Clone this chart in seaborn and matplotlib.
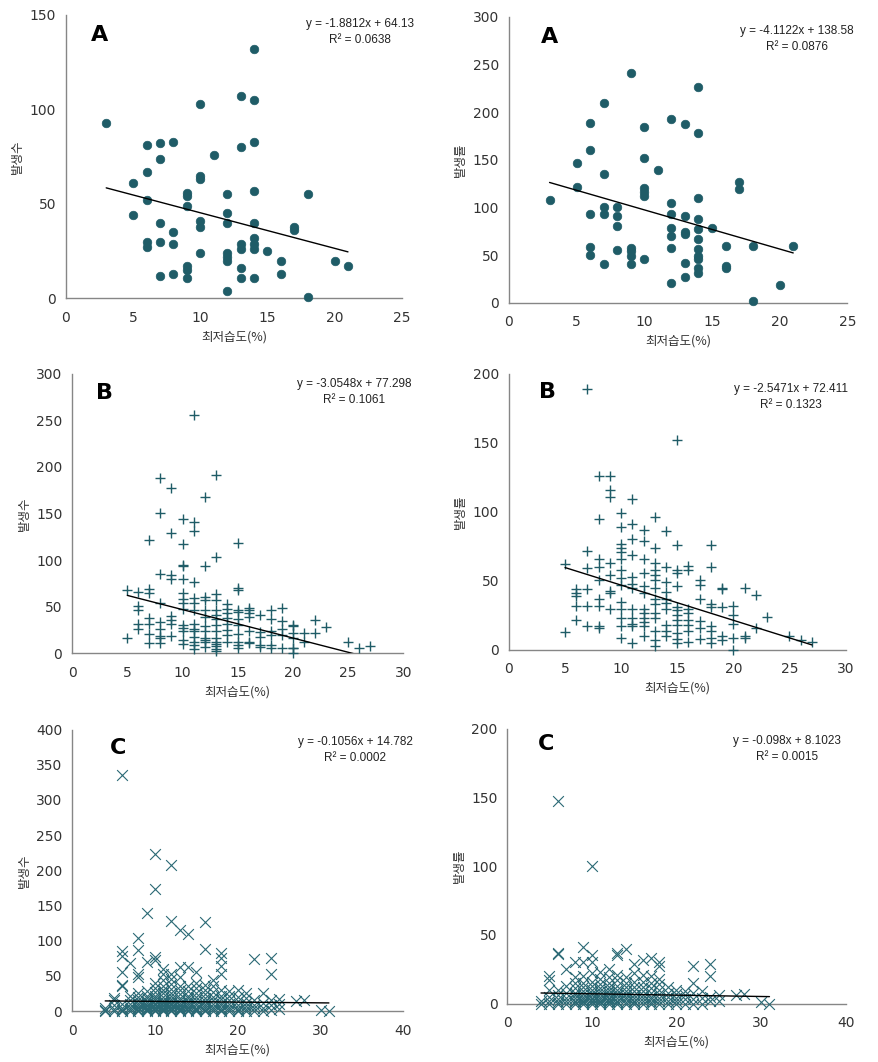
import numpy as np
import pandas as pd
import matplotlib
matplotlib.use('Agg')
import matplotlib.pyplot as plt
import seaborn as sns

sns.set_style('white')
plt.rcParams['font.family'] = ['DejaVu Sans', 'Noto Sans CJK KR']

# ---- A: 발생수 / 발생률 (circles)
a_cnt_x = [3, 5, 5, 6, 6, 6, 6, 6, 7, 7, 7, 7, 7, 8, 8, 8, 8,
           9, 9, 9, 9, 9, 9, 10, 10, 10, 10, 10, 10, 11,
           12, 12, 12, 12, 12, 12, 12, 13, 13, 13, 13, 13, 13,
           14, 14, 14, 14, 14, 14, 14, 14, 14, 15, 16, 16, 17, 17, 18, 18, 20, 21]
a_cnt_y = [93, 61, 44, 81, 67, 52, 30, 27, 82, 74, 40, 30, 12, 83, 35, 29, 13,
           56, 54, 49, 17, 15, 11, 103, 65, 63, 41, 38, 24, 76,
           55, 45, 40, 24, 22, 20, 4, 107, 80, 29, 26, 16, 11,
           132, 105, 83, 57, 40, 32, 29, 26, 11, 25, 20, 13, 38, 36, 55, 1, 20, 17]

a_rate_x = [3, 5, 5, 6, 6, 6, 6, 6, 7, 7, 7, 7, 7, 8, 8, 8, 8,
            9, 9, 9, 9, 9, 10, 10, 10, 10, 10, 10, 11,
            12, 12, 12, 12, 12, 12, 12, 13, 13, 13, 13, 13, 13,
            14, 14, 14, 14, 14, 14, 14, 14, 14, 14, 14,
            15, 16, 16, 16, 17, 17, 18, 18, 20, 21]
a_rate_y = [108, 147, 121, 189, 160, 93, 58, 50, 210, 135, 100, 93, 41, 100, 91, 81, 55,
            241, 57, 54, 49, 41, 185, 152, 120, 116, 112, 46, 139,
            193, 105, 93, 78, 70, 57, 21, 188, 91, 74, 72, 42, 27,
            227, 178, 110, 88, 77, 67, 56, 49, 46, 36, 31,
            78, 59, 38, 36, 127, 119, 60, 2, 19, 60]

# ---- B: plus markers, grouped by humidity value
b_cnt_cols = [5, 6, 7, 8, 9, 10, 11, 12, 13, 14, 15, 16, 17, 18, 19, 20, 21, 22, 23, 25, 26, 27]
b_cnt_vals = [
    [68, 16],
    [66, 51, 46, 31, 26],
    [121, 69, 65, 38, 31, 21, 11],
    [188, 150, 85, 54, 33, 26, 18, 16, 11],
    [177, 129, 84, 80, 40, 36, 31, 18],
    [144, 117, 95, 94, 80, 65, 58, 54, 47, 30, 27, 24, 14, 10],
    [256, 141, 131, 76, 59, 54, 46, 31, 26, 24, 17, 12, 9, 4],
    [168, 94, 60, 57, 46, 39, 29, 24, 16, 14, 12, 7],
    [191, 103, 64, 57, 46, 41, 37, 30, 24, 16, 12, 10, 8, 4, 2],
    [53, 47, 43, 38, 31, 25, 19, 12],
    [118, 70, 68, 46, 44, 37, 30, 21, 12, 9, 5],
    [48, 46, 43, 39, 24, 12, 11],
    [41, 23, 17, 9, 7],
    [46, 37, 24, 19, 9, 5],
    [49, 34, 26, 19, 5],
    [30, 29, 22, 16, 6, 5, 0],
    [22, 12],
    [36, 22],
    [28],
    [12],
    [6],
    [8],
]
b_rate_cols = [5, 6, 7, 8, 9, 10, 11, 12, 13, 14, 15, 16, 17, 18, 19, 20, 21, 22, 23, 25, 26, 27]
b_rate_vals = [
    [62, 13],
    [44, 41, 39, 32, 22],
    [189, 72, 59, 44, 32, 17],
    [126, 95, 66, 60, 51, 37, 32, 17, 16],
    [126, 116, 111, 63, 54, 43, 41, 30],
    [99, 89, 77, 74, 71, 66, 58, 52, 47, 35, 30, 23, 17, 9],
    [109, 91, 80, 69, 53, 48, 45, 30, 23, 19, 17, 5],
    [87, 79, 66, 56, 46, 41, 30, 27, 23, 20, 17, 10],
    [96, 74, 63, 58, 54, 51, 45, 37, 33, 27, 23, 14, 7, 3],
    [86, 60, 49, 42, 37, 34, 30, 18, 14, 10],
    [152, 76, 58, 56, 46, 31, 29, 25, 22, 18, 12, 8, 5],
    [61, 58, 30, 27, 22, 18, 14, 6],
    [51, 47, 37, 21, 16, 8],
    [76, 60, 33, 31, 17, 14, 9, 5],
    [45, 44, 31, 10, 7],
    [32, 25, 19, 9, 0],
    [45, 10, 9],
    [40, 16],
    [24],
    [10],
    [7],
    [6],
]

# ---- C: x markers, grouped by humidity value
c_cnt_cols = [4, 5, 6, 7, 8, 9, 10, 11, 12, 13, 14, 15, 16, 17, 18, 19, 20, 21,
              22, 23, 24, 25, 27, 28, 30, 31]
c_cnt_vals = [
    [0, 2, 5],
    [0, 3, 8, 15, 18],
    [0, 2, 5, 10, 36, 37, 56, 78, 85, 335],
    [0, 3, 6, 10, 15, 22, 68],
    [0, 2, 4, 6, 9, 12, 15, 20, 25, 49, 52, 87, 104],
    [0, 1, 3, 5, 7, 9, 11, 14, 18, 22, 28, 70, 140],
    [0, 1, 2, 4, 6, 8, 10, 12, 15, 18, 22, 27, 33, 40, 73, 77, 173, 223],
    [0, 1, 3, 5, 7, 9, 11, 13, 16, 20, 25, 30, 36, 44, 52, 60],
    [0, 1, 2, 4, 6, 8, 10, 12, 14, 17, 21, 26, 31, 38, 45, 52, 128, 207],
    [0, 1, 3, 5, 7, 9, 12, 15, 19, 24, 30, 36, 48, 63, 115],
    [0, 2, 4, 6, 8, 11, 14, 18, 22, 28, 35, 63, 110],
    [0, 1, 3, 5, 8, 11, 15, 20, 26, 33, 40, 56],
    [0, 2, 4, 7, 10, 14, 18, 24, 30, 37, 88, 127],
    [0, 3, 6, 10, 15, 20, 27, 35, 44],
    [0, 2, 5, 8, 12, 17, 22, 30, 52, 64, 75, 83],
    [0, 3, 6, 10, 15, 22, 28],
    [0, 2, 5, 9, 14, 20, 30],
    [0, 3, 7, 12, 18, 25],
    [0, 4, 9, 15, 74],
    [0, 5, 12, 26],
    [2, 8, 15, 53, 76],
    [3, 10, 17],
    [14],
    [16],
    [2],
    [0],
]
c_rate_cols = [4, 5, 6, 7, 8, 9, 10, 11, 12, 13, 14, 15, 16, 17, 18, 19, 20, 21,
               22, 23, 24, 25, 27, 28, 30, 31]
c_rate_vals = [
    [0, 2],
    [0, 2, 5, 10, 17, 20],
    [0, 1, 3, 6, 10, 36, 37, 147],
    [0, 2, 4, 8, 13, 25],
    [0, 1, 2, 4, 6, 8, 11, 15, 19, 30],
    [0, 1, 2, 3, 5, 7, 9, 12, 15, 20, 30, 41],
    [0, 1, 2, 3, 4, 6, 8, 10, 13, 16, 22, 30, 35, 100],
    [0, 1, 2, 3, 5, 7, 9, 11, 14, 18, 23],
    [0, 1, 2, 3, 4, 6, 8, 10, 12, 15, 19, 25],
    [0, 1, 2, 4, 6, 8, 10, 13, 17, 21, 35, 37],
    [0, 1, 3, 5, 7, 9, 12, 15, 19, 40],
    [0, 1, 2, 4, 6, 9, 12, 16, 22, 29],
    [0, 2, 4, 6, 9, 12, 16, 21, 32],
    [0, 1, 3, 5, 8, 11, 15, 20, 33],
    [0, 2, 4, 7, 10, 14, 18, 27, 30],
    [0, 2, 5, 8, 12],
    [0, 2, 4, 7, 10],
    [0, 3, 6, 9],
    [0, 3, 8, 15, 27],
    [0, 4, 9],
    [2, 5, 20, 29],
    [2, 6],
    [6],
    [7],
    [1],
    [0],
]

# trendline equations printed on the chart (A-left, A-right, B-left, B-right, C-left, C-right)
slopes = [-1.8812, -4.1122, -3.0548, -2.5471, -0.1056, -0.098]
intercepts = [64.13, 138.58, 77.298, 72.411, 14.782, 8.1023]
eq_texts = ['y = -1.8812x + 64.13', 'y = -4.1122x + 138.58', 'y = -3.0548x + 77.298',
            'y = -2.5471x + 72.411', 'y = -0.1056x + 14.782', 'y = -0.098x + 8.1023']
r2_texts = ['R² = 0.0638', 'R² = 0.0876', 'R² = 0.1061', 'R² = 0.1323', 'R² = 0.0002', 'R² = 0.0015']
panel_letters = ['A', 'A', 'B', 'B', 'C', 'C']
y_labels = ['발생수', '발생률', '발생수', '발생률', '발생수', '발생률']
x_label = '최저습도(%)'


def flatten(cols, vals):
    xs, ys = [], []
    for c, v in zip(cols, vals):
        xs += [c] * len(v)
        ys += v
    return xs, ys


b_cnt_x, b_cnt_y = flatten(b_cnt_cols, b_cnt_vals)
b_rate_x, b_rate_y = flatten(b_rate_cols, b_rate_vals)
c_cnt_x, c_cnt_y = flatten(c_cnt_cols, c_cnt_vals)
c_rate_x, c_rate_y = flatten(c_rate_cols, c_rate_vals)

series = [(a_cnt_x, a_cnt_y), (a_rate_x, a_rate_y), (b_cnt_x, b_cnt_y),
          (b_rate_x, b_rate_y), (c_cnt_x, c_cnt_y), (c_rate_x, c_rate_y)]

# layout / style
rects = [[0.075, 0.719, 0.382, 0.267], [0.579, 0.715, 0.385, 0.269],
         [0.082, 0.385, 0.377, 0.263], [0.579, 0.388, 0.383, 0.260],
         [0.082, 0.048, 0.377, 0.265], [0.577, 0.055, 0.385, 0.259]]
xmax = [25, 25, 30, 30, 40, 40]
xstep = [5, 5, 5, 5, 10, 10]
ymax = [150, 300, 300, 200, 400, 200]
markers = ['o', 'o', '+', '+', 'x', 'x']
msize = [38, 38, 55, 55, 60, 60]
letter_pos = [(0.10, 0.93), (0.12, 0.93), (0.097, 0.93), (0.116, 0.935), (0.14, 0.935), (0.115, 0.945)]
eq_pos = [(0.875, 0.968, 0.912), (0.85, 0.951, 0.895), (0.85, 0.964, 0.907),
          (0.837, 0.946, 0.888), (0.855, 0.957, 0.90), (0.828, 0.956, 0.898)]

teal = '#1f5c67'
grey = '#868686'

fig = plt.figure(figsize=(8.79, 10.62), dpi=100)

for i in range(6):
    ax = fig.add_axes(rects[i])
    xs, ys = series[i]
    df = pd.DataFrame({'x': xs, 'y': ys})
    if markers[i] == 'o':
        sns.scatterplot(data=df, x='x', y='y', ax=ax, marker='o', s=msize[i],
                        color=teal, edgecolor=teal, linewidth=0.5, clip_on=False, zorder=3)
    else:
        lw = 1.0 if markers[i] == '+' else 0.8
        sns.scatterplot(data=df, x='x', y='y', ax=ax, marker=markers[i], s=msize[i],
                        color=teal if markers[i] == '+' else '#2a6975',
                        linewidth=lw, clip_on=False, zorder=3)

    # trendline across the data range
    x0, x1 = min(xs), max(xs)
    line = pd.DataFrame({'x': [x0, x1],
                         'y': [slopes[i] * x0 + intercepts[i], slopes[i] * x1 + intercepts[i]]})
    sns.lineplot(data=line, x='x', y='y', ax=ax, color='black', linewidth=1.0, zorder=4)

    ax.set_xlim(0, xmax[i])
    ax.set_ylim(0, ymax[i])
    ax.set_xticks(np.arange(0, xmax[i] + 1, xstep[i]))
    ax.set_yticks(np.arange(0, ymax[i] + 1, 50))
    for s in ['top', 'right']:
        ax.spines[s].set_visible(False)
    for s in ['left', 'bottom']:
        ax.spines[s].set_color(grey)
        ax.spines[s].set_linewidth(1.0)
    ax.tick_params(axis='both', direction='out', length=4, width=1, color=grey,
                   labelsize=10, labelcolor='#333333', pad=3)
    ax.tick_params(axis='x', pad=5)
    ax.set_xlabel(x_label, fontsize=9, color='#333333', family=['Noto Sans CJK KR', 'DejaVu Sans'])
    ax.set_ylabel(y_labels[i], fontsize=9, color='#333333', family=['Noto Sans CJK KR', 'DejaVu Sans'])

    ax.text(letter_pos[i][0], letter_pos[i][1], panel_letters[i], transform=ax.transAxes,
            fontsize=16, fontweight='bold', ha='center', va='center', color='black')
    ex, ey1, ey2 = eq_pos[i]
    ax.text(ex, ey1, eq_texts[i], transform=ax.transAxes, fontsize=8.5,
            ha='center', va='center', color='#222222', family='Liberation Sans')
    ax.text(ex, ey2, r2_texts[i], transform=ax.transAxes, fontsize=8.5,
            ha='center', va='center', color='#222222', family='Liberation Sans')

fig.savefig('out.png', dpi=100)
